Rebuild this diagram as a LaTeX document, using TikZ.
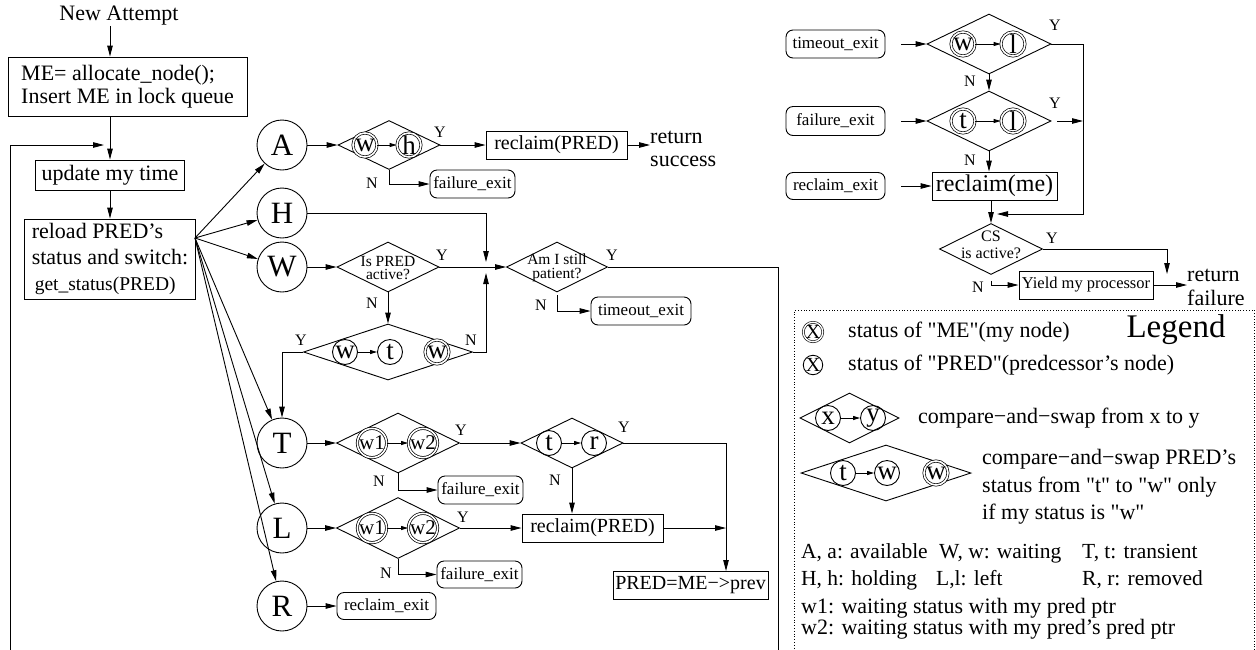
\documentclass[tikz,border=0pt]{standalone}
\usepackage{fontspec}
\setmainfont{Liberation Serif}
\usetikzlibrary{shapes.geometric,arrows.meta,calc}
\newcommand\rsf[1]{\fontsize{#1}{#1}\selectfont}
\newcommand\qd{\textquotedbl}
\tikzset{
 ln/.style={line width=0.9pt},
 arr/.style={ln, -{Triangle[length=11pt,width=5.5pt]}},
 sarr/.style={ln, -{Triangle[length=7pt,width=4pt]}},
 box/.style={draw, ln, rectangle, inner sep=0pt},
 rbox/.style={draw, ln, rectangle, rounded corners=7pt, inner sep=0pt, font=\rsf{17}},
 state/.style={draw, ln, circle, minimum size=50pt, inner sep=0pt, font=\rsf{31}},
 pc/.style={draw, ln, circle, minimum size=25pt, inner sep=0pt, font=\rsf{27}},
 mc/.style={draw, line width=0.7pt, circle, double, double distance=1.6pt, minimum size=24pt, inner sep=0pt, font=\rsf{27}},
 mcw/.style={mc, minimum size=28pt, font=\rsf{21}},
 dia/.style={draw, ln, diamond, inner sep=0pt},
 yn/.style={font=\rsf{16}, inner sep=0pt},
 txt/.style={inner sep=0pt},
}
\begin{document}
\begin{tikzpicture}[x=1pt,y=-1pt]
\useasboundingbox (0,0) rectangle (1256,649);
% ---------- left column
\node[txt, font=\rsf{22}] (newatt) at (119,16) {New Attempt};
\node[box, minimum width=239pt, minimum height=59pt, align=left, font=\fontsize{22}{23}\selectfont] (me) at (127.5,86.5) {ME= allocate\_node();\\Insert ME in lock queue};
\node[box, minimum width=149pt, minimum height=30pt, font=\rsf{22}] (upd) at (110,175) {update my time};
\node[box, minimum width=171pt, minimum height=80pt, align=left, font=\fontsize{22}{26}\selectfont] (rel) at (110,259) {reload PRED’s\\status and switch:\\\hspace*{3pt}{\rsf{19.5}get\_status(PRED)}};
\draw[arr] (newatt.south -| upd.north) -- (me.north -| upd.north);
\draw[arr] (me.south -| upd.north) -- (upd.north);
\draw[arr] (upd.south) -- (rel.north -| upd.south);
\coordinate (lpb) at (10,652);
\coordinate (lpe) at (104,145);
\draw[arr] (lpb) |- (lpe);
\coordinate (fan) at (195,238);
% ---------- state circles
\node[state] (A) at (282,145) {A};
\node[state] (H) at (282,213) {H};
\node[state] (W) at (282,267) {W};
\node[state] (T) at (282,443) {T};
\node[state] (L) at (282,528) {L};
\node[state] (R) at (282,606) {R};
\foreach \s in {A,H,W,T,L,R} \draw[arr] (fan) -- (\s);
% ---------- row A
\node[dia, minimum width=102pt, minimum height=49pt] (dA) at (389,145) {};
\node[mc] (cAw) at (365,145) {w};
\node[mc] (cAh) at (409,145) {h};
\draw[sarr] (cAw) -- (cAh);
\draw[arr] (A.east) -- (dA.west);
\node[yn] (yA) at (440,132) {Y};
\node[box, minimum width=141pt, minimum height=28pt, font=\rsf{20}] (recA) at (556.5,145) {reclaim(PRED)};
\draw[arr] (dA.east) -- (recA.west);
\node[txt, anchor=west, align=left, font=\fontsize{22}{23}\selectfont] (retS) at (650,149) {return\\success};
\draw[arr] (recA.east) -- (recA.east -| retS.west);
\node[yn] (nA) at (372,183) {N};
\node[rbox, minimum width=85pt, minimum height=28pt] (fA) at (472.5,184) {failure\_exit};
\draw[arr] (dA.south) |- (fA.west);
% ---------- row H
\coordinate (jt) at (486,262);
\coordinate (jb) at (486,273);
\draw[arr] (H.east) -| (jt);
% ---------- row W
\node[dia, minimum width=102pt, minimum height=50pt] (dIs) at (388,267) {};
\node[txt, align=center, font=\fontsize{15.5}{13}\selectfont] (tIs) at (388,268) {Is PRED\\active?};
\draw[arr] (W.east) -- (dIs.west);
\node[yn] (yIs) at (442,255) {Y};
\node[dia, minimum width=101pt, minimum height=50pt] (am) at (557,267) {};
\node[txt, align=center, font=\fontsize{15.5}{14}\selectfont] (tam) at (557,268) {Am I still\\patient?};
\draw[arr] (dIs.east) -- (am.west);
\node[yn] (yam) at (612,255) {Y};
\coordinate (amb) at (778,652);
\draw[ln] (am.east) -| (amb);
\node[yn] (nam) at (541,305) {N};
\node[rbox, minimum width=100pt, minimum height=28pt] (tmo) at (641,311) {timeout\_exit};
\draw[arr, shorten <=3pt] (am.south) |- (tmo.west);
\node[yn] (nIs) at (372,303) {N};
\node[dia, minimum width=169pt, minimum height=56pt] (dwt) at (388,352) {};
\node[pc] (c1) at (345,352) {w};
\node[pc] (c2) at (390,352) {t};
\node[mc] (c3) at (437,352) {w};
\draw[sarr] (c1) -- (c2);
\draw[arr] (dIs.south) -- (dwt.north);
\node[yn] (ywt) at (301,340) {Y};
\node[yn] (nwt) at (471,340) {N};
\draw[arr] (dwt.west) -| (T.north);
\draw[arr] (dwt.east) -| (jb);
% ---------- row T
\node[dia, minimum width=123pt, minimum height=60pt] (dT) at (398,443) {};
\node[mcw] (cT1) at (372,443) {w1};
\node[mcw] (cT2) at (423,443) {w2};
\draw[sarr] (cT1) -- (cT2);
\draw[arr] (T.east) -- (dT.west);
\node[yn] (yT) at (461,430) {Y};
\node[dia, minimum width=102pt, minimum height=50pt] (dtr) at (572,443) {};
\node[pc] (ct) at (549,443) {t};
\node[pc] (cr) at (594,443) {r};
\draw[sarr] (ct) -- (cr);
\draw[arr] (dT.east) -- (dtr.west);
\node[yn] (nT) at (379,481) {N};
\node[rbox, minimum width=85pt, minimum height=28pt] (fT) at (480.5,490) {failure\_exit};
\draw[arr] (dT.south) |- (fT.west);
\node[yn] (ytr) at (624,427) {Y};
\node[box, minimum width=155pt, minimum height=28pt, font=\rsf{20}] (pm) at (690.5,585) {PRED=ME−>prev};
\coordinate (pmin) at (726,571);
\draw[arr] (dtr.east) -| (pmin);
\node[yn] (ntr) at (555,480) {N};
\node[box, minimum width=141pt, minimum height=28pt, font=\rsf{20}] (recL) at (592.5,528) {reclaim(PRED)};
\draw[arr] (dtr.south) -- (dtr.south |- recL.north);
\draw[arr] (recL.east) -- (recL.east -| pmin);
% ---------- row L
\node[dia, minimum width=123pt, minimum height=61pt] (dL) at (398,528) {};
\node[mcw] (cL1) at (372,528) {w1};
\node[mcw] (cL2) at (423,528) {w2};
\draw[sarr] (cL1) -- (cL2);
\draw[arr] (L.east) -- (dL.west);
\node[yn] (yL) at (463,517) {Y};
\draw[arr] (dL.east) -- (recL.west);
\node[yn] (nL) at (386,573) {N};
\node[rbox, minimum width=85pt, minimum height=27pt] (fL) at (479.5,574.5) {failure\_exit};
\draw[arr] (dL.south) |- (fL.west);
% ---------- row R
\node[rbox, minimum width=99pt, minimum height=27pt] (rx) at (386.5,606) {reclaim\_exit};
\draw[arr] (R.east) -- (rx.west);
% ---------- right column
\node[rbox, minimum width=99pt, minimum height=28pt] (tmo2) at (835.5,44) {timeout\_exit};
\node[dia, minimum width=124pt, minimum height=60pt] (dwl) at (989,44) {};
\node[mc] (cwl1) at (963,44) {w};
\node[mc] (cwl2) at (1013,44) {l};
\draw[sarr] (cwl1) -- (cwl2);
\draw[arr] ([xshift=16pt]tmo2.east) -- (dwl.west);
\node[yn] (ywl) at (1055,25) {Y};
\coordinate (rc) at (1083,214);
\coordinate (rj) at (997,214);
\draw[arr] (dwl.east) -| (rc) -- (rj);
\node[yn] (nwl) at (970,81) {N};
\node[dia, minimum width=124pt, minimum height=60pt] (dtl) at (989,121) {};
\node[mc] (ctl1) at (963,121) {t};
\node[mc] (ctl2) at (1013,121) {l};
\draw[sarr] (ctl1) -- (ctl2);
\draw[arr] (dwl.south) -- (dtl.north);
\node[yn] (ytl) at (1055,103) {Y};
\draw[arr] ([xshift=6pt]dtl.east) -- (dtl.east -| rc);
\node[rbox, minimum width=99pt, minimum height=29pt] (fR) at (835.5,121) {failure\_exit};
\draw[arr] ([xshift=16pt]fR.east) -- (dtl.west);
\node[yn] (ntl) at (970,160) {N};
\node[box, minimum width=125pt, minimum height=28pt, font=\rsf{24}] (recme) at (994.5,186) {reclaim(me)};
\draw[arr] (dtl.south) -- (dtl.south |- recme.north);
\node[rbox, minimum width=99pt, minimum height=27pt] (rxR) at (835.5,186) {reclaim\_exit};
\draw[arr] ([xshift=16pt]rxR.east) -- (recme.west);
\node[dia, minimum width=103pt, minimum height=51pt] (cs) at (991,249) {};
\node[txt, align=center, font=\fontsize{16}{17}\selectfont] (tcs) at (991,245) {CS\\is active?};
\draw[arr] (cs.north |- recme.south) -- (cs.north);
\node[yn] (ycs) at (1052,238) {Y};
\coordinate (ct2) at (1167,274);
\draw[arr] (cs.east) -| (ct2);
\node[yn] (ncs) at (978,287) {N};
\node[box, minimum width=134pt, minimum height=28pt, font=\rsf{16.5}] (yld) at (1086,285) {Yield my processor};
\draw[arr, shorten <=6pt] (cs.south) |- (yld.west);
\node[txt, anchor=west, align=left, font=\fontsize{22}{24}\selectfont] (retF) at (1187,287) {return\\failure};
\draw[arr] (yld.east) -- (yld.east -| retF.west);
% ---------- legend
\node[draw, dotted, line width=0.8pt, minimum width=460pt, minimum height=350pt, anchor=north west, inner sep=0pt] (legbox) at (794,310) {};
\node[mc, minimum size=19pt, line width=0.6pt, double distance=1.4pt, font=\rsf{20}] (lx1) at (813,332) {X};
\node[txt, anchor=west, font=\rsf{22}] (lt1) at (848,332) {status of \qd ME\qd(my node)};
\node[txt, font=\rsf{33}] (legt) at (1176,330) {Legend};
\node[pc, minimum size=19pt, font=\rsf{20}] (lx2) at (813,365) {X};
\node[txt, anchor=west, font=\rsf{22}] (lt2) at (848,365) {status of \qd PRED\qd(predcessor’s node)};
\node[dia, minimum width=99pt, minimum height=50pt] (ld1) at (849.5,418) {};
\node[pc] (lcx) at (828,418) {x};
\node[pc] (lcy) at (873,418) {y};
\draw[sarr] (lcx) -- (lcy);
\node[txt, anchor=west, font=\rsf{22}] (lt3) at (918,418) {compare−and−swap from x to y};
\node[dia, minimum width=170pt, minimum height=56pt] (ld2) at (886,473) {};
\node[pc] (lt) at (843,473) {t};
\node[pc] (lw) at (887,473) {w};
\node[mc] (lww) at (936,473) {w};
\draw[sarr] (lt) -- (lw);
\node[txt, anchor=west, align=left, font=\fontsize{22}{27.5}\selectfont] (lt4) at (982,487) {compare−and−swap PRED’s\\status from \qd t\qd{} to \qd w\qd{} only\\if my status is \qd w\qd};
\node[txt, anchor=base west, font=\rsf{21.5}] (r1a) at (801,558) {A, a: available};
\node[txt, anchor=base west, font=\rsf{21.5}] (r1b) at (939,558) {W, w: waiting};
\node[txt, anchor=base west, font=\rsf{21.5}] (r1c) at (1082,558) {T, t: transient};
\node[txt, anchor=base west, font=\rsf{21.5}] (r2a) at (801,585) {H, h: holding};
\node[txt, anchor=base west, font=\rsf{21.5}] (r2b) at (936,585) {L,l: left};
\node[txt, anchor=base west, font=\rsf{21.5}] (r2c) at (1082,585) {R, r: removed};
\node[txt, anchor=base west, font=\rsf{22}] (r3) at (801,613) {w1: waiting status with my pred ptr};
\node[txt, anchor=base west, font=\rsf{22}] (r4) at (801,634) {w2: waiting status with my pred’s pred ptr};
\end{tikzpicture}
\end{document}
